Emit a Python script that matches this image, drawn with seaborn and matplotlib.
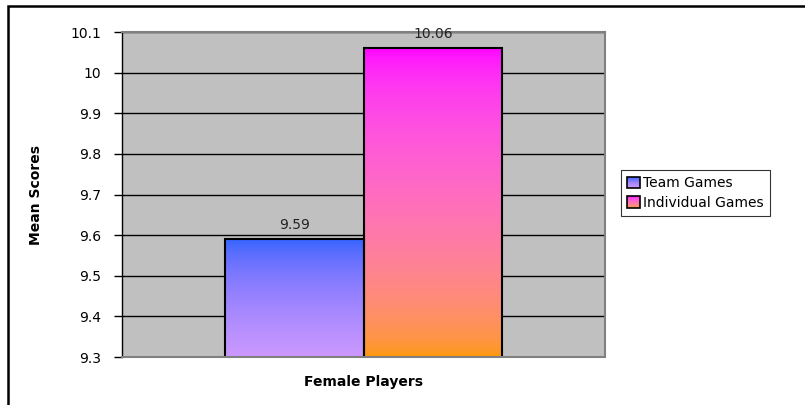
import numpy as np
import pandas as pd
import matplotlib
matplotlib.use("Agg")
import matplotlib.pyplot as plt
import seaborn as sns
from matplotlib.colors import to_rgb
from matplotlib.patches import Rectangle
from matplotlib.legend_handler import HandlerBase

# ===== DATA =====
groups = ["Female Players", "Female Players"]
series = ["Team Games", "Individual Games"]
means = [9.59, 10.06]
y_ticks = [9.3, 9.4, 9.5, 9.6, 9.7, 9.8, 9.9, 10.0, 10.1]
y_ticklabels = ["9.3", "9.4", "9.5", "9.6", "9.7", "9.8", "9.9", "10", "10.1"]
# top colour, bottom colour of each bar's gradient
gradients = {
    "Team Games": ("#3366FF", "#CC99FF"),
    "Individual Games": ("#FF00FF", "#FF9900"),
}
# ================

sns.set_theme(style="white")
plt.rcParams["font.family"] = ["DejaVu Sans"]
plt.rcParams["text.color"] = "black"
plt.rcParams["axes.labelcolor"] = "black"
plt.rcParams["ytick.color"] = "black"

df = pd.DataFrame({"group": groups, "series": series, "mean": means})


def to_lin(c):
    c = np.asarray(c)
    return np.where(c <= 0.04045, c / 12.92, ((c + 0.055) / 1.055) ** 2.4)


def to_srgb(c):
    c = np.asarray(c)
    return np.where(c <= 0.0031308, c * 12.92, 1.055 * c ** (1 / 2.4) - 0.055)


def mix(top, bottom, t):
    a, b = to_lin(to_rgb(top)), to_lin(to_rgb(bottom))
    return np.clip(to_srgb(a * (1 - t) + b * t), 0, 1)


def grad_img(top, bottom, n=256):
    t = np.linspace(0, 1, n)[:, None]
    return mix(top, bottom, t)[:, None, :]


fig = plt.figure(figsize=(8.05, 4.05), dpi=100)
ax = fig.add_axes([122 / 805, 1 - 357 / 405, 483 / 805, 325 / 405])
ax.set_facecolor("#C0C0C0")

sns.barplot(data=df, x="group", y="mean", hue="series", width=0.574,
            palette=["#8080FF", "#FF80C0"], legend=False, ax=ax, saturation=1)

ymin, ymax = y_ticks[0], y_ticks[-1]

for patch, name, val in zip(ax.patches, series, means):
    x0 = patch.get_x()
    w = patch.get_width()
    top, bottom = gradients[name]
    img = ax.imshow(grad_img(top, bottom), extent=(x0, x0 + w, ymin, val),
                    aspect="auto", zorder=1, interpolation="bilinear")
    img.set_clip_path(patch)
    patch.set_facecolor("none")
    patch.set_edgecolor("black")
    patch.set_linewidth(1.5)
    patch.set_zorder(2)
    ax.text(x0 + w / 2, val + 0.018, f"{val:.2f}", ha="center", va="bottom",
            fontsize=10, color="#222222", zorder=3)

ax.set_xlim(-0.5, 0.5)
ax.set_ylim(ymin, ymax)
ax.set_yticks(y_ticks)
ax.set_yticklabels(y_ticklabels, fontsize=10)
ax.set_xticks([])
ax.yaxis.grid(True, color="black", linewidth=1)
ax.set_axisbelow(True)
ax.tick_params(axis="y", left=True, length=6, width=1, color="black", pad=9)

for side in ["top", "right", "bottom"]:
    ax.spines[side].set_color("#808080")
    ax.spines[side].set_linewidth(1.5)
ax.spines["left"].set_color("black")
ax.spines["left"].set_linewidth(1)

ax.set_xlabel("Female Players", fontsize=10, fontweight="bold", labelpad=13)
ax.set_ylabel("Mean Scores", fontsize=10, fontweight="bold", labelpad=20)


class GradientHandler(HandlerBase):
    def __init__(self, top, bottom):
        super().__init__()
        self.top, self.bottom = top, bottom

    def create_artists(self, legend, orig_handle, xdescent, ydescent,
                       width, height, fontsize, trans):
        arts = []
        n = 12
        for i in range(n):
            c = mix(self.top, self.bottom, (i + 0.5) / n)
            arts.append(Rectangle((-xdescent, -ydescent + height * (1 - (i + 1) / n)),
                                  width, height / n, facecolor=c, edgecolor="none",
                                  transform=trans))
        arts.append(Rectangle((-xdescent, -ydescent), width, height,
                              facecolor="none", edgecolor="black", linewidth=1.2,
                              transform=trans))
        return arts


handles = [Rectangle((0, 0), 1, 1) for _ in series]
handler_map = {h: GradientHandler(*gradients[s]) for h, s in zip(handles, series)}
leg = fig.legend(handles, series, handler_map=handler_map, loc="upper left",
                 bbox_to_anchor=(621 / 805, 1 - 170 / 405), fontsize=10,
                 frameon=True, fancybox=False, handlelength=0.9, handleheight=0.85,
                 handletextpad=0.25, borderpad=0.45, labelspacing=0.4,
                 borderaxespad=0)
leg.get_frame().set_edgecolor("black")
leg.get_frame().set_linewidth(0.8)

# outer chart border (runs off the right and bottom edges)
fig.patches.append(Rectangle((8 / 805, -0.05), 1.0, 1 - 6 / 405 + 0.05,
                             transform=fig.transFigure, fill=False,
                             edgecolor="black", linewidth=1.8))

fig.savefig("out.png", dpi=100)
